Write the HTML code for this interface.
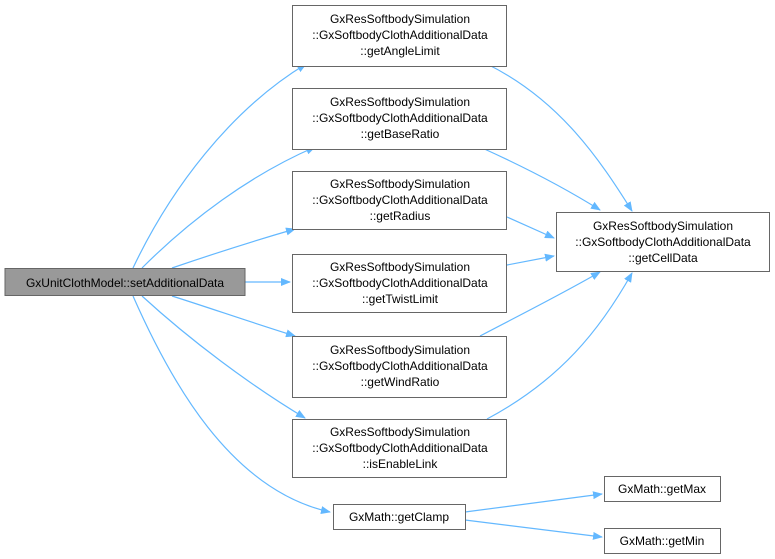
<!DOCTYPE html>
<html><head><style>
body{margin:0;background:#fff;}
svg{display:block;font-family:"Liberation Sans",Arial,sans-serif;font-size:12px;}
</style></head><body>
<svg width="775" height="559" viewBox="0 0 775 559">
<defs><marker id="a" markerWidth="10" markerHeight="8" refX="9" refY="4" orient="auto" markerUnits="userSpaceOnUse"><path d="M0,0 L10,4 L0,8z" fill="#63b8ff"/></marker></defs>
<g fill="none" stroke="#63b8ff" stroke-width="1.2" marker-end="url(#a)">
<path d="M133,268 C170,190 230,110 306,64"/>
<path d="M142,268 C190,220 250,175 315,147"/>
<path d="M172,268 C210,255 250,242 295,229"/>
<path d="M245,282 L290,282"/>
<path d="M172,296 C210,308 250,322 295,336"/>
<path d="M142,296 C190,340 250,385 305,418"/>
<path d="M133,296 C170,380 230,490 330,512"/>
<path d="M487,64 C560,100 600,160 632,211"/>
<path d="M480,147 C520,165 560,185 600,210"/>
<path d="M507,217 L554,238"/>
<path d="M507,265 L554,256"/>
<path d="M480,336 C520,315 560,295 600,272"/>
<path d="M487,419 C560,380 600,330 632,273"/>
<path d="M465,512 L602,494"/>
<path d="M465,520 L602,537"/>
</g>
<g stroke="#666" fill="#fff">
<rect x="5" y="268.5" width="240" height="27" fill="#999"/>
<rect x="292.5" y="5.5" width="214" height="61"/>
<rect x="292.5" y="88.5" width="214" height="61"/>
<rect x="292.5" y="171.5" width="214" height="58"/>
<rect x="292.5" y="254.5" width="214" height="58"/>
<rect x="292.5" y="336.5" width="214" height="61"/>
<rect x="292.5" y="419.5" width="214" height="58"/>
<rect x="556.5" y="212.5" width="213" height="59"/>
<rect x="333.5" y="504.5" width="132" height="25"/>
<rect x="604.5" y="476.5" width="116" height="25"/>
<rect x="604.5" y="528.5" width="116" height="25"/>
</g>
<g fill="#000" text-anchor="middle">
<text x="125" y="287">GxUnitClothModel::setAdditionalData</text>
<text x="400" y="23">GxResSoftbodySimulation</text>
<text x="400" y="39">::GxSoftbodyClothAdditionalData</text>
<text x="400" y="55">::getAngleLimit</text>
<text x="400" y="106">GxResSoftbodySimulation</text>
<text x="400" y="122">::GxSoftbodyClothAdditionalData</text>
<text x="400" y="138">::getBaseRatio</text>
<text x="400" y="188">GxResSoftbodySimulation</text>
<text x="400" y="204">::GxSoftbodyClothAdditionalData</text>
<text x="400" y="220">::getRadius</text>
<text x="400" y="271">GxResSoftbodySimulation</text>
<text x="400" y="287">::GxSoftbodyClothAdditionalData</text>
<text x="400" y="303">::getTwistLimit</text>
<text x="400" y="354">GxResSoftbodySimulation</text>
<text x="400" y="370">::GxSoftbodyClothAdditionalData</text>
<text x="400" y="386">::getWindRatio</text>
<text x="400" y="436">GxResSoftbodySimulation</text>
<text x="400" y="452">::GxSoftbodyClothAdditionalData</text>
<text x="400" y="468">::isEnableLink</text>
<text x="663" y="230">GxResSoftbodySimulation</text>
<text x="663" y="246">::GxSoftbodyClothAdditionalData</text>
<text x="663" y="262">::getCellData</text>
<text x="399" y="521">GxMath::getClamp</text>
<text x="662" y="493">GxMath::getMax</text>
<text x="662" y="545">GxMath::getMin</text>
</g>
</svg>
</body></html>
